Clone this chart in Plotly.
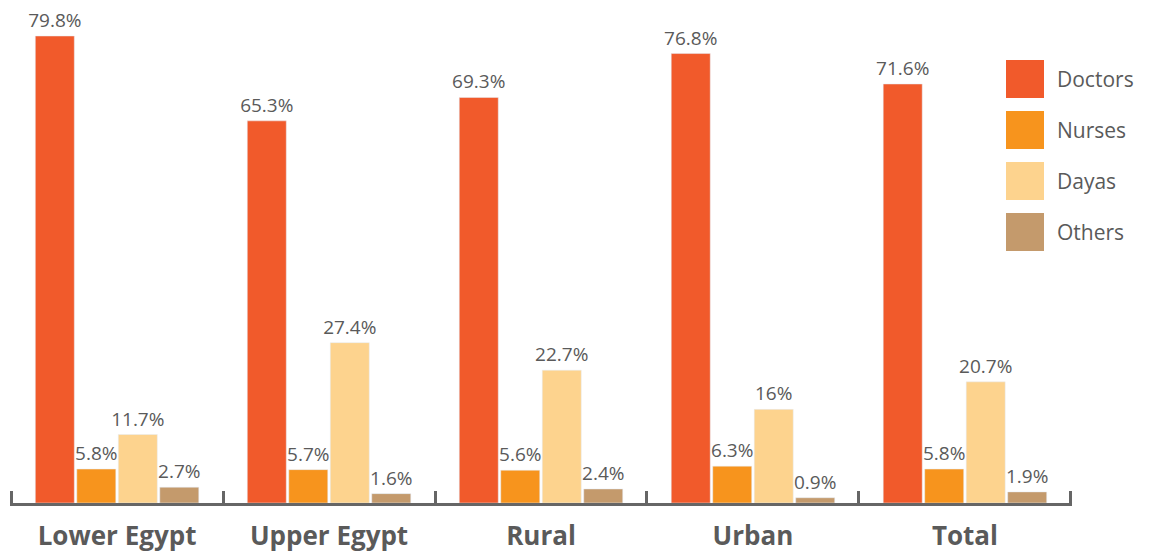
import plotly.graph_objects as go

categories = ["Lower Egypt", "Upper Egypt", "Rural", "Urban", "Total"]
series_names = ["Doctors", "Nurses", "Dayas", "Others"]
doctors = [79.8, 65.3, 69.3, 76.8, 71.6]
nurses = [5.8, 5.7, 5.6, 6.3, 5.8]
dayas = [11.7, 27.4, 22.7, 16, 20.7]
others = [2.7, 1.6, 2.4, 0.9, 1.9]
colors = ["#F15A2B", "#F7941D", "#FDD38E", "#C49A6C"]

values = [doctors, nurses, dayas, others]
# page body has an 8px margin; figure size chosen so it fits the 1149x556 window
W, H = 1141, 548
OFF = 8
ml, mr, mt, mb = 10 - OFF, 1149 - 1072, 0, 556 - 503
pw, ph = W - ml - mr, H - mt - mb
top_px = OFF + mt  # page y of plot top

fig = go.Figure()
for name, vals, col in zip(series_names, values, colors):
    fig.add_trace(go.Bar(
        x=categories, y=vals, name=name, marker_color=col,
        texttemplate="%{y}%",
        textposition="outside", cliponaxis=False, constraintext="none",
        textfont=dict(family="Open Sans", size=19, color="#5a5a5a"),
        showlegend=False,
    ))

# manual legend
shapes = []
annotations = []
for i, (name, col) in enumerate(zip(series_names, colors)):
    top = 60 + i * 51
    shapes.append(dict(type="rect", xref="paper", yref="paper",
                       x0=(1006 - OFF - ml) / pw, x1=(1044 - OFF - ml) / pw,
                       y0=1 - (top + 38 - top_px) / ph, y1=1 - (top - top_px) / ph,
                       fillcolor=col, line=dict(width=0)))
    annotations.append(dict(xref="paper", yref="paper", x=(1055 - OFF - ml) / pw,
                            y=1 - (top + 19 - top_px) / ph, text=name, showarrow=False,
                            xanchor="left", yanchor="middle",
                            font=dict(family="Open Sans", size=21, color="#5a5a5a")))

fig.update_layout(
    width=W, height=H,
    margin=dict(l=ml, r=mr, t=mt, b=mb),
    barmode="group", bargap=0.217, bargroupgap=0.06,
    plot_bgcolor="white", paper_bgcolor="white",
    shapes=shapes, annotations=annotations,
    xaxis=dict(range=[-0.505, 4.505], showline=True, linecolor="#666666", linewidth=3,
               ticks="inside", tickson="boundaries", ticklen=12, tickwidth=3,
               tickcolor="#666666", ticklabelstandoff=8,
               tickfont=dict(family="Open Sans", size=26, color="#5a5a5a", weight="bold")),
    yaxis=dict(range=[0, (503 - top_px) / (467 / 79.8)], visible=False, showgrid=False),
)
fig.write_html("out.html")
